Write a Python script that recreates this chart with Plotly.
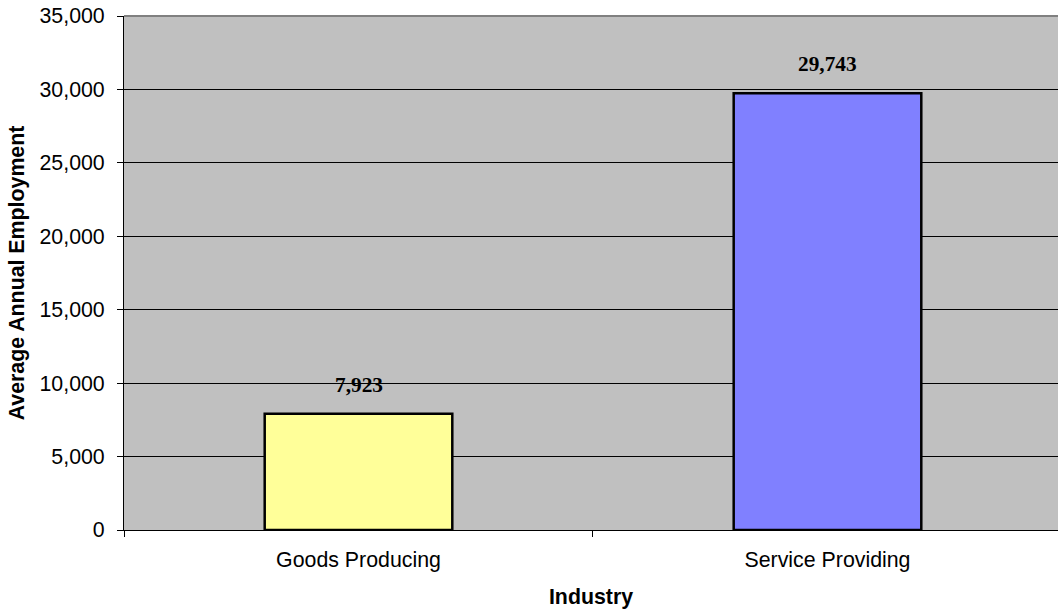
import plotly.graph_objects as go

categories = ["Goods Producing", "Service Providing"]
employment = [7923, 29743]
bar_colors = ["#FFFF99", "#8080FF"]
y_ticks = [0, 5000, 10000, 15000, 20000, 25000, 30000, 35000]

FS = 21.33

fig = go.Figure()
fig.add_trace(go.Bar(
    x=categories, y=employment, width=0.4,
    marker=dict(color=bar_colors, line=dict(color="#000000", width=2.5)),
    hoverinfo="skip",
))

for c, v in zip(categories, employment):
    fig.add_annotation(
        x=c, y=v, text="<b>{:,}</b>".format(v), showarrow=False,
        yanchor="middle", yshift=29,
        font=dict(family="Liberation Serif, Times New Roman, serif", size=FS, color="#000000"),
    )

fig.add_shape(type="line", xref="paper", yref="paper", x0=0, x1=1, y0=1, y1=1,
              line=dict(color="#808080", width=2))

fig.update_layout(
    width=1058, height=615, autosize=False,
    margin=dict(l=124, r=0, t=16, b=85),
    paper_bgcolor="#FFFFFF", plot_bgcolor="#C0C0C0",
    font=dict(family="Liberation Sans, Arial, sans-serif", size=FS, color="#000000"),
    showlegend=False,
    bargap=0.6,
)
fig.update_xaxes(
    type="category", range=[-0.5, 1.4915],
    showline=True, linecolor="#000000", linewidth=1,
    ticks="outside", tickson="boundaries", ticklen=6, tickcolor="#000000",
    showgrid=False,
    tickfont=dict(size=FS), ticklabelstandoff=10,
    title=dict(text="<b>Industry</b>", font=dict(size=FS), standoff=18),
)
fig.update_yaxes(
    range=[0, 35000], tickvals=y_ticks, tickformat=",",
    showline=True, linecolor="#000000", linewidth=1,
    ticks="outside", ticklen=6, tickcolor="#000000",
    showgrid=True, gridcolor="#000000", gridwidth=1, zeroline=False,
    tickfont=dict(size=FS), ticklabelstandoff=8,
    title=dict(text="<b>Average Annual Employment</b>", font=dict(size=FS), standoff=9),
)

fig.write_html("out.html", config={"displayModeBar": False, "staticPlot": True},
               post_script="document.body.style.margin='0px';")
